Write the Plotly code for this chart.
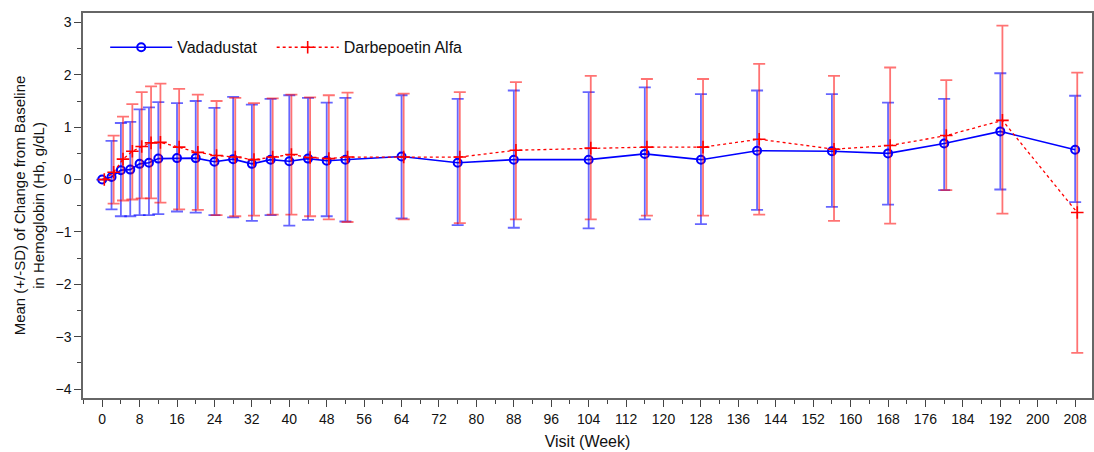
import plotly.graph_objects as go

# Visit weeks
weeks = [0, 2, 4, 6, 8, 10, 12, 16, 20, 24, 28, 32, 36, 40, 44, 48, 52,
         64, 76, 88, 104, 116, 128, 140, 156, 168, 180, 192, 208]

# Vadadustat: mean change and mean +/- SD
vada_mean = [0, 0.05, 0.18, 0.19, 0.30, 0.32, 0.40, 0.41, 0.41, 0.34, 0.39, 0.30, 0.38, 0.35,
             0.40, 0.36, 0.38, 0.44, 0.32, 0.38, 0.38, 0.49, 0.38, 0.55, 0.54, 0.50, 0.69, 0.92, 0.57]
vada_upper = [0, 0.74, 1.08, 1.10, 1.34, 1.38, 1.48, 1.46, 1.50, 1.37, 1.58, 1.43, 1.54, 1.61,
              1.56, 1.47, 1.56, 1.61, 1.54, 1.70, 1.67, 1.76, 1.63, 1.70, 1.63, 1.47, 1.54, 2.03, 1.60]
vada_lower = [0, -0.57, -0.70, -0.70, -0.68, -0.68, -0.66, -0.61, -0.63, -0.68, -0.72, -0.79, -0.68,
              -0.88, -0.77, -0.70, -0.80, -0.74, -0.87, -0.92, -0.93, -0.76, -0.85, -0.58, -0.52,
              -0.48, -0.20, -0.19, -0.43]

# Darbepoetin Alfa: mean change and mean +/- SD
darb_mean = [0, 0.14, 0.39, 0.54, 0.63, 0.70, 0.71, 0.62, 0.52, 0.46, 0.43, 0.38, 0.43, 0.48,
             0.42, 0.40, 0.43, 0.43, 0.43, 0.56, 0.60, 0.62, 0.62, 0.77, 0.58, 0.65, 0.84, 1.13, -0.63]
darb_upper = [0, 0.84, 1.20, 1.44, 1.67, 1.78, 1.83, 1.73, 1.62, 1.50, 1.56, 1.46, 1.55, 1.62,
              1.57, 1.61, 1.66, 1.64, 1.67, 1.86, 1.98, 1.92, 1.92, 2.21, 1.98, 2.14, 1.90, 2.94, 2.04]
darb_lower = [0, -0.46, -0.40, -0.38, -0.36, -0.36, -0.44, -0.57, -0.58, -0.68, -0.70, -0.69, -0.67,
              -0.67, -0.70, -0.76, -0.81, -0.76, -0.83, -0.76, -0.76, -0.69, -0.69, -0.67, -0.79,
              -0.84, -0.20, -0.65, -3.31]

x_ticks = list(range(0, 209, 8))
y_ticks = [-4, -3, -2, -1, 0, 1, 2, 3]

DODGE = 0.45  # small horizontal shift so the two groups' bars do not sit on top of each other
TICK_FONT = dict(family="Liberation Sans Narrow, Arial Narrow, Liberation Sans, Arial", size=14, color="#111")
TEXT_FONT = dict(family="Liberation Sans, Arial", size=16, color="#111")


def err(mean, upper, lower):
    plus = [round(u - m, 4) for u, m in zip(upper, mean)]
    minus = [round(m - l, 4) for m, l in zip(mean, lower)]
    return plus, minus


vp, vm = err(vada_mean, vada_upper, vada_lower)
dp, dm = err(darb_mean, darb_upper, darb_lower)

fig = go.Figure()
fig.add_trace(go.Scatter(
    x=weeks, y=vada_mean, name="Vadadustat", mode="lines+markers", legend="legend",
    line=dict(color="#0000FF", width=1.6),
    marker=dict(symbol="circle-open", size=8, color="#0000FF", line=dict(width=2)),
    error_y=dict(type="data", symmetric=False, array=vp, arrayminus=vm,
                 color="rgba(0,0,255,0.6)", thickness=1.8, width=6),
))
fig.add_trace(go.Scatter(
    x=[w + DODGE for w in weeks], y=darb_mean, name="Darbepoetin Alfa", mode="lines+markers",
    legend="legend2",
    line=dict(color="#FF0000", width=1.3, dash="dot"),
    marker=dict(symbol="cross-thin-open", size=9, color="#FF0000", line=dict(width=1.6, color="#FF0000")),
    error_y=dict(type="data", symmetric=False, array=dp, arrayminus=dm,
                 color="rgba(255,0,0,0.55)", thickness=1.8, width=6),
))

axis_common = dict(showline=True, linecolor="#666", linewidth=1.5, mirror=True,
                   ticks="outside", tickcolor="#444", tickwidth=1.2, showgrid=False,
                   zeroline=False, tickfont=TICK_FONT)

fig.update_xaxes(range=[-4.1, 211.6], tickvals=x_ticks, ticklen=7,
                 minor=dict(dtick=4, tick0=0, ticklen=4, ticks="outside", tickcolor="#444"),
                 title=dict(text="Visit (Week)", font=TEXT_FONT, standoff=10), **axis_common)
fig.update_yaxes(range=[-4.17, 3.18], tickvals=y_ticks, ticklen=7,
                 minor=dict(dtick=0.5, tick0=0, ticklen=4, ticks="outside", tickcolor="#444"),
                 title=dict(text="Mean (+/-SD) of Change from Baseline<br>in Hemoglobin (Hb, g/dL)",
                            font=dict(family="Liberation Sans, Arial", size=15, color="#111"), standoff=7),
                 **axis_common)

legend_style = dict(orientation="h", y=0.955, xanchor="left", yanchor="top",
                    font=TEXT_FONT, bgcolor="rgba(0,0,0,0)", itemwidth=62)

fig.update_layout(
    width=1094, height=452,
    margin=dict(l=83, r=0, t=13, b=54),
    paper_bgcolor="white", plot_bgcolor="white",
    showlegend=True,
    legend=dict(x=0.022, **legend_style),
    legend2=dict(x=0.187, **legend_style),
)

fig.write_html("out.html")
